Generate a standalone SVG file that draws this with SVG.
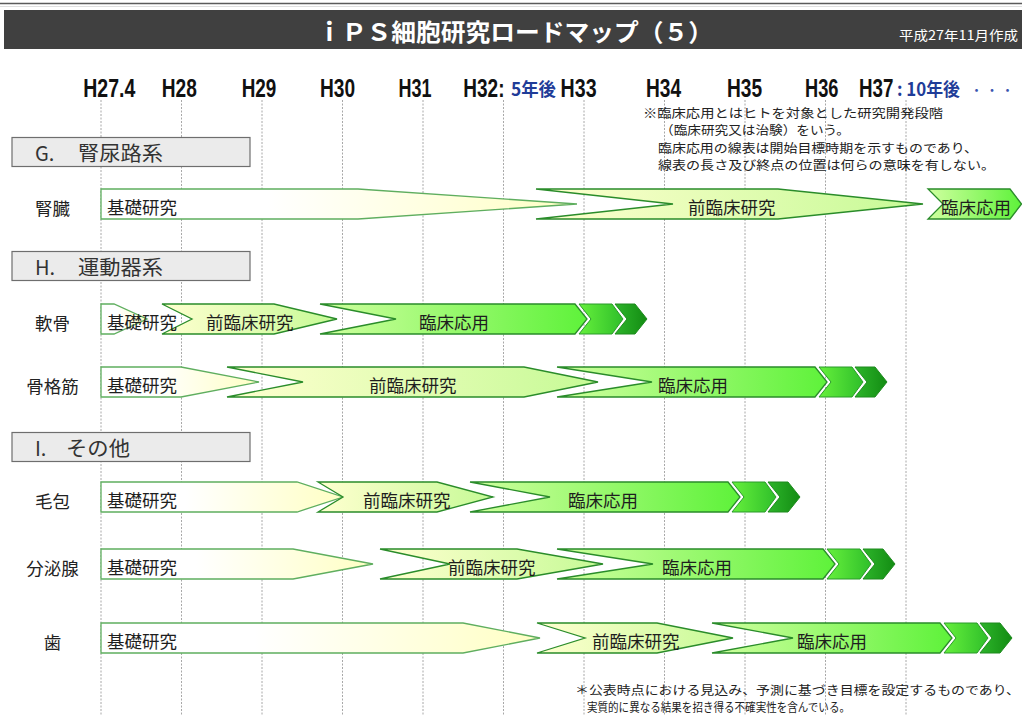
<svg xmlns="http://www.w3.org/2000/svg" width="1022" height="715" viewBox="0 0 1022 715">
<defs>
<linearGradient id="gKiso" x1="0" y1="0" x2="1" y2="0"><stop offset="0" stop-color="#ffffff"/><stop offset="0.35" stop-color="#ffffff"/><stop offset="1" stop-color="#ffffc4"/></linearGradient>
<linearGradient id="gZen" x1="0" y1="0" x2="1" y2="0"><stop offset="0" stop-color="#ffffd0"/><stop offset="1" stop-color="#c6fa96"/></linearGradient>
<linearGradient id="gRin" x1="0" y1="0" x2="1" y2="0"><stop offset="0" stop-color="#d0ffa0"/><stop offset="1" stop-color="#5ef23a"/></linearGradient>
<linearGradient id="gCh1" x1="0" y1="0" x2="1" y2="0"><stop offset="0" stop-color="#66f03c"/><stop offset="1" stop-color="#2fbf2a"/></linearGradient>
<linearGradient id="gCh2" x1="0" y1="0" x2="1" y2="0"><stop offset="0" stop-color="#2db52a"/><stop offset="1" stop-color="#138c13"/></linearGradient>
</defs>
<style>
.grid{stroke:#a8a8a8;stroke-width:1;stroke-dasharray:2 1.5}
.kiso{fill:url(#gKiso);stroke:#5fae5f;stroke-width:1.3}
.zen{fill:url(#gZen);stroke:#2a8c2a;stroke-width:1.3}
.rin{fill:url(#gRin);stroke:#2a8c2a;stroke-width:1.3}
.ch1{fill:url(#gCh1);stroke:#2a9a2a;stroke-width:1}
.ch2{fill:url(#gCh2);stroke:#1f8a1f;stroke-width:1}
.t{font-family:"Noto Sans CJK JP","Noto Sans",sans-serif;fill:#1e1e1e;font-size:17.5px}
.row{font-family:"Noto Sans CJK JP","Noto Sans",sans-serif;fill:#222;font-size:17.5px;text-anchor:middle}
.sec{fill:#ebebeb;stroke:#6e6e6e;stroke-width:1.2}
.st{font-family:"Noto Sans CJK JP","Noto Sans",sans-serif;fill:#333;font-size:20px}
.yr{font-family:"Liberation Sans",Arial,sans-serif;font-weight:bold;font-size:25px;fill:#111}
.blue{font-family:"Noto Sans CJK JP","Noto Sans",sans-serif;font-weight:bold;font-size:18px;fill:#1f3c98}
.dots{font-family:"Noto Sans CJK JP","Noto Sans",sans-serif;font-size:13px;fill:#3a55b0}
.note{font-family:"Noto Sans CJK JP","Noto Sans",sans-serif;fill:#222;font-size:12.5px}
.foot{font-family:"Noto Sans CJK JP","Noto Sans",sans-serif;fill:#222;font-size:12px}
</style>
<rect width="1022" height="715" fill="#ffffff"/>
<line x1="0" y1="3.5" x2="1022" y2="3.5" stroke="#5a5a5a" stroke-width="1.5"/>
<line x1="0" y1="6.5" x2="1022" y2="6.5" stroke="#e0e0e0" stroke-width="1"/>
<g id="header">
<rect x="4" y="10" width="1018" height="39" fill="#404040"/>
<text x="317" y="41" textLength="396" lengthAdjust="spacingAndGlyphs" font-family="Noto Sans CJK JP, sans-serif" font-weight="bold" font-size="24" fill="#ffffff">ｉＰＳ細胞研究ロードマップ（５）</text>
<text x="899" y="40" textLength="119" lengthAdjust="spacingAndGlyphs" font-family="Noto Sans CJK JP, sans-serif" font-size="13" fill="#ffffff">平成27年11月作成</text>
</g>
<g id="grid">
<line class="grid" x1="101" y1="100" x2="101" y2="715"/>
<line class="grid" x1="181.5" y1="100" x2="181.5" y2="715"/>
<line class="grid" x1="262" y1="100" x2="262" y2="715"/>
<line class="grid" x1="342.5" y1="100" x2="342.5" y2="715"/>
<line class="grid" x1="423" y1="100" x2="423" y2="715"/>
<line class="grid" x1="503.5" y1="100" x2="503.5" y2="715"/>
<line class="grid" x1="584" y1="100" x2="584" y2="715"/>
<line class="grid" x1="664.5" y1="100" x2="664.5" y2="715"/>
<line class="grid" x1="745" y1="100" x2="745" y2="715"/>
<line class="grid" x1="825.5" y1="100" x2="825.5" y2="715"/>
<line class="grid" x1="906" y1="100" x2="906" y2="715"/>
</g>
<g id="years">
<text class="yr" transform="translate(83.3,97) scale(0.78,1)">H27.4</text>
<text class="yr" transform="translate(161.7,97) scale(0.765,1)">H28</text>
<text class="yr" transform="translate(241.7,97) scale(0.755,1)">H29</text>
<text class="yr" transform="translate(320,97) scale(0.765,1)">H30</text>
<text class="yr" transform="translate(398.5,97) scale(0.72,1)">H31</text>
<text class="yr" transform="translate(463.3,97) scale(0.76,1)">H32:</text>
<text class="blue" x="511" y="96" textLength="45" lengthAdjust="spacingAndGlyphs">5年後</text>
<text class="yr" transform="translate(560.6,97) scale(0.785,1)">H33</text>
<text class="yr" transform="translate(646,97) scale(0.765,1)">H34</text>
<text class="yr" transform="translate(727,97) scale(0.765,1)">H35</text>
<text class="yr" transform="translate(805,97) scale(0.73,1)">H36</text>
<text class="yr" transform="translate(859,97) scale(0.75,1)">H37</text>
<text class="blue" x="897" y="96" textLength="63" lengthAdjust="spacingAndGlyphs">: 10年後</text>
<text class="dots" x="970" y="95" textLength="44" lengthAdjust="spacing">・・・</text>
</g>
<g id="notes">
<text class="note" x="643" y="117.5" textLength="300" lengthAdjust="spacingAndGlyphs">※臨床応用とはヒトを対象とした研究開発段階</text>
<text class="note" x="660" y="134.5" textLength="190" lengthAdjust="spacingAndGlyphs">（臨床研究又は治験）をいう。</text>
<text class="note" x="658" y="152.5" textLength="320" lengthAdjust="spacingAndGlyphs">臨床応用の線表は開始目標時期を示すものであり、</text>
<text class="note" x="658" y="169.5" textLength="337" lengthAdjust="spacingAndGlyphs">線表の長さ及び終点の位置は何らの意味を有しない。</text>
</g>
<g id="sectionG">
<rect class="sec" x="12" y="137.5" width="238" height="29"/>
<text class="st" x="35" y="161">G.</text>
<text class="st" x="78" y="161" textLength="85" lengthAdjust="spacingAndGlyphs">腎尿路系</text>
</g>
<g id="sectionH">
<rect class="sec" x="12" y="251.5" width="238" height="29"/>
<text class="st" x="35" y="275">H.</text>
<text class="st" x="78" y="275" textLength="85" lengthAdjust="spacingAndGlyphs">運動器系</text>
</g>
<g id="sectionI">
<rect class="sec" x="12" y="432.5" width="238" height="29"/>
<text class="st" x="35" y="456">I.</text>
<text class="st" x="66" y="456" textLength="64" lengthAdjust="spacingAndGlyphs">その他</text>
</g>
<g id="row-kidney">
<text class="row" x="52.5" y="214.5">腎臓</text>
<polygon class="kiso" points="101,189 358,189 577,204 358,219 101,219"/>
<polygon class="zen" points="536,189 778,189 923,204 778,219 536,219 673,204"/>
<polygon class="rin" points="928,189 1010,189 1021.5,204 1010,219 928,219 943,204"/>
<text class="t" x="107" y="214">基礎研究</text>
<text class="t" x="688" y="214">前臨床研究</text>
<text class="t" x="941" y="214">臨床応用</text>
</g>
<g id="row-cartilage">
<text class="row" x="52.5" y="329.5">軟骨</text>
<polygon class="kiso" points="101,304 114,304 147,319 114,334 101,334"/>
<polygon class="zen" points="162,304 274,304 337,319 274,334 162,334 192,319"/>
<polygon class="rin" points="320,304 575,304 587,319 575,334 320,334 396,319"/>
<polygon class="ch1" points="579,304 612,304 623,319 612,334 579,334 591,319"/>
<polygon class="ch2" points="615,304 635,304 647,319 635,334 615,334 627,319"/>
<text class="t" x="107" y="329">基礎研究</text>
<text class="t" x="206" y="329">前臨床研究</text>
<text class="t" x="419" y="329">臨床応用</text>
</g>
<g id="row-muscle">
<text class="row" x="52.5" y="392.5">骨格筋</text>
<polygon class="kiso" points="101,367 181,367 259,382 181,397 101,397"/>
<polygon class="zen" points="227,367 524,367 598,382 524,397 227,397 303,382"/>
<polygon class="rin" points="557,367 815,367 827,382 815,397 557,397 652,382"/>
<polygon class="ch1" points="819,367 852,367 863,382 852,397 819,397 831,382"/>
<polygon class="ch2" points="855,367 875,367 887,382 875,397 855,397 867,382"/>
<text class="t" x="107" y="392">基礎研究</text>
<text class="t" x="369" y="392">前臨床研究</text>
<text class="t" x="658" y="392">臨床応用</text>
</g>
<g id="row-hair">
<text class="row" x="52.5" y="507.5">毛包</text>
<polygon class="kiso" points="101,482 297,482 343,497 297,512 101,512"/>
<polygon class="zen" points="318,482 437,482 493,497 437,512 318,512 343,497"/>
<polygon class="rin" points="470,482 728,482 740,497 728,512 470,512 550,497"/>
<polygon class="ch1" points="732,482 765,482 776,497 765,512 732,512 744,497"/>
<polygon class="ch2" points="768,482 788,482 800,497 788,512 768,512 780,497"/>
<text class="t" x="107" y="507">基礎研究</text>
<text class="t" x="363" y="507">前臨床研究</text>
<text class="t" x="568" y="507">臨床応用</text>
</g>
<g id="row-gland">
<text class="row" x="52.5" y="574.5">分泌腺</text>
<polygon class="kiso" points="101,549 293,549 373,564 293,579 101,579"/>
<polygon class="zen" points="380,549 517,549 603,564 517,579 380,579 450,564"/>
<polygon class="rin" points="557,549 823,549 835,564 823,579 557,579 653,564"/>
<polygon class="ch1" points="827,549 860,549 871,564 860,579 827,579 839,564"/>
<polygon class="ch2" points="863,549 883,549 895,564 883,579 863,579 875,564"/>
<text class="t" x="107" y="574">基礎研究</text>
<text class="t" x="448" y="574">前臨床研究</text>
<text class="t" x="662" y="574">臨床応用</text>
</g>
<g id="row-tooth">
<text class="row" x="52.5" y="648.5">歯</text>
<polygon class="kiso" points="101,623 463,623 540,638 463,653 101,653"/>
<polygon class="zen" points="537,623 657,623 733,638 657,653 537,653 585,638"/>
<polygon class="rin" points="712,623 940,623 952,638 940,653 712,653 793,638"/>
<polygon class="ch1" points="944,623 977,623 988,638 977,653 944,653 956,638"/>
<polygon class="ch2" points="980,623 1000,623 1012,638 1000,653 980,653 992,638"/>
<text class="t" x="107" y="648">基礎研究</text>
<text class="t" x="592" y="648">前臨床研究</text>
<text class="t" x="797" y="648">臨床応用</text>
</g>
<g id="footnote">
<text class="foot" x="575" y="694.5" textLength="445" lengthAdjust="spacingAndGlyphs">＊公表時点における見込み、予測に基づき目標を設定するものであり、</text>
<text class="foot" x="587" y="711.5" textLength="263" lengthAdjust="spacingAndGlyphs">実質的に異なる結果を招き得る不確実性を含んでいる。</text>
</g>
</svg>
